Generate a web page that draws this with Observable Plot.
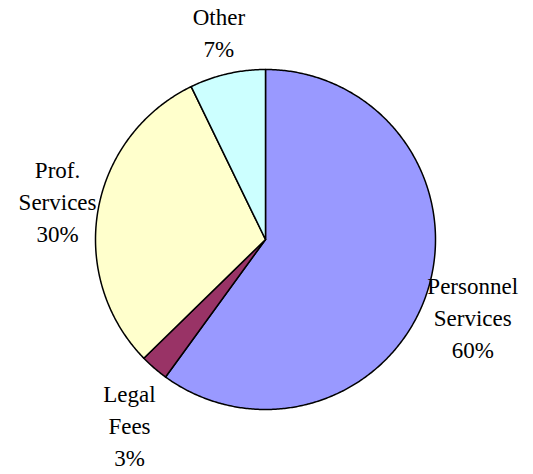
<!DOCTYPE html>
<html>
<head>
<meta charset="utf-8">
<script src="https://cdn.jsdelivr.net/npm/d3@7"></script>
<script src="https://cdn.jsdelivr.net/npm/@observablehq/plot@0.6"></script>
<style>
  html, body { margin: 0; padding: 0; background: #ffffff; }
  #chart svg { display: block; }
  #chart svg text { font-family: "Liberation Serif", "Times New Roman", Times, serif !important; font-size: 23px !important; }
</style>
</head>
<body>
<div id="chart"></div>
<script>
// ---- Data ----
const categories = ["Personnel Services", "Legal Fees", "Prof. Services", "Other"];
const values = [60.0, 2.7, 30.1, 7.2];
const nameLines = [["Personnel", "Services"], ["Legal", "Fees"], ["Prof.", "Services"], ["Other"]];
const percentLabels = ["60%", "3%", "30%", "7%"];
const colors = ["#9999FF", "#993366", "#FFFFCC", "#CCFFFF"];

// ---- Layout ----
const W = 533, H = 474;
const R = 170;            // pie radius in px
const CX = 265, CY = 239; // pie centre in px
const FONT_SIZE = 23, LINE_PX = 32;
const FONT = "'Liberation Serif', 'Times New Roman', Times, serif";
const CHAR_W = 0.44 * FONT_SIZE; // approximate average glyph width
const SHIFT_PX = 5;              // small downward nudge of all labels

// angles (clockwise from 12 o'clock) via d3.pie
const arcs = d3.pie().sort(null).value(d => d)(values);

// slice outlines in unit-circle coordinates (y up)
const slicePts = [];
arcs.forEach((a, i) => {
  const cat = categories[i];
  slicePts.push({cat, x: 0, y: 0});
  const n = Math.max(2, Math.ceil((a.endAngle - a.startAngle) / (Math.PI / 360)));
  for (let k = 0; k <= n; k++) {
    const t = a.startAngle + (a.endAngle - a.startAngle) * k / n;
    slicePts.push({cat, x: Math.sin(t), y: Math.cos(t)});
  }
  slicePts.push({cat, x: 0, y: 0});
});

// labels: box placed outside the rim at the slice's mid-angle, one text per line
const labelLines = [];
arcs.forEach((a, i) => {
  const lines = [...nameLines[i], percentLabels[i]];
  const n = lines.length;
  const w = Math.max(...lines.map(s => s.length)) * CHAR_W;
  const h = n * LINE_PX - 4;
  const mid = (a.startAngle + a.endAngle) / 2;
  const s = Math.sin(mid), c = Math.cos(mid);
  const cx = s + Math.max(-1, Math.min(1, 1.5 * s)) * (w / 2) / R;
  const cy = c + 1.55 * c * (h / 2) / R - SHIFT_PX / R;
  lines.forEach((t, k) => {
    labelLines.push({text: t, x: cx, y: cy + ((n - 1) / 2 - k) * LINE_PX / R});
  });
});

const chart = Plot.plot({
  width: W,
  height: H,
  margin: 0,
  x: {domain: [-CX / R, (W - CX) / R], axis: null},
  y: {domain: [-(H - CY) / R, CY / R], axis: null},
  color: {domain: categories, range: colors},
  style: {background: "#ffffff", fontFamily: FONT},
  marks: [
    Plot.line(slicePts, {
      x: "x", y: "y", z: "cat", fill: "cat",
      stroke: "#000000", strokeWidth: 1.5, strokeLinejoin: "round", curve: "linear"
    }),
    Plot.text(labelLines, {
      x: "x", y: "y", text: "text",
      fontSize: FONT_SIZE, fontFamily: FONT, fill: "#000000",
      textAnchor: "middle", lineAnchor: "middle"
    })
  ]
});
// make sure every label carries the serif face directly
d3.select(chart).selectAll("text")
  .attr("font-family", FONT)
  .attr("font-size", FONT_SIZE)
  .style("font-family", FONT)
  .style("font-size", FONT_SIZE + "px");
document.getElementById("chart").appendChild(chart);
</script>
</body>
</html>
